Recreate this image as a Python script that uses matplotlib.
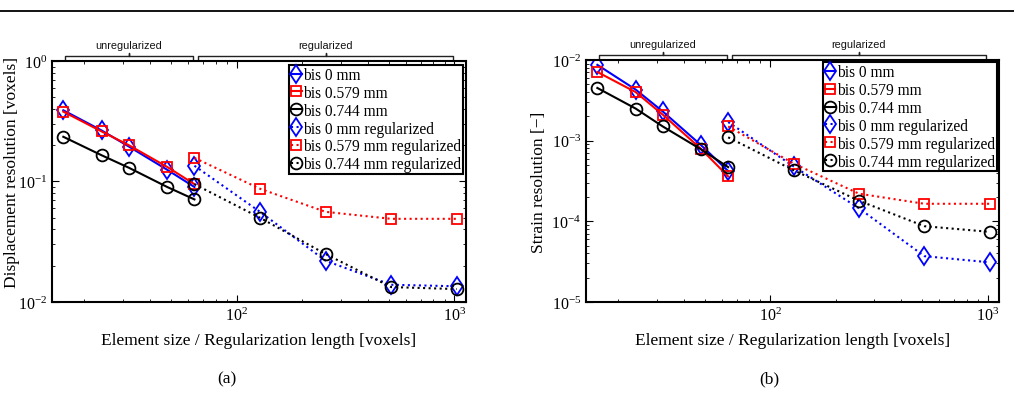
import matplotlib
matplotlib.use("Agg")
import matplotlib.pyplot as plt
import matplotlib.transforms as mtransforms
from matplotlib.lines import Line2D

plt.rcParams["font.family"] = ["Liberation Serif", "DejaVu Serif"]
plt.rcParams["mathtext.fontset"] = "stix"

# element sizes / regularization lengths [voxels]
x_unreg = [16, 24, 32, 48, 64]
x_reg = [64, 128, 256, 512, 1024]

labels = ["bis 0 mm", "bis 0.579 mm", "bis 0.744 mm",
          "bis 0 mm regularized", "bis 0.579 mm regularized", "bis 0.744 mm regularized"]

# (a) displacement resolution [voxels]
disp_unreg_0 = [0.39, 0.265, 0.195, 0.125, 0.09]
disp_unreg_579 = [0.38, 0.26, 0.20, 0.132, 0.095]
disp_unreg_744 = [0.235, 0.165, 0.13, 0.09, 0.071]
disp_reg_0 = [0.135, 0.056, 0.022, 0.0139, 0.0135]
disp_reg_579 = [0.157, 0.087, 0.056, 0.049, 0.049]
disp_reg_744 = [0.095, 0.05, 0.025, 0.0133, 0.0128]

# (b) strain resolution [-]
str_unreg_0 = [0.0087, 0.0043, 0.0023, 0.00088, 0.00042]
str_unreg_579 = [0.0071, 0.0040, 0.0021, 0.00079, 0.00036]
str_unreg_744 = [0.0045, 0.0025, 0.0015, 0.00078, 0.00047]
str_reg_0 = [0.0017, 0.00048, 0.000145, 3.7e-5, 3.1e-5]
str_reg_579 = [0.0015, 0.00052, 0.00022, 0.000165, 0.000165]
str_reg_744 = [0.0011, 0.00043, 0.00018, 8.7e-5, 7.4e-5]

BLUE = "#0000ff"
RED = "#ff0000"
BLACK = "#000000"

fig = plt.figure(figsize=(10.14, 4.02), dpi=100)

# rule at the top of the page
fig.add_artist(Line2D([0, 1], [0.970, 0.970], transform=fig.transFigure,
                      color="black", lw=1.3))


def brace(ax, x1, x2, text):
    tr = mtransforms.blended_transform_factory(ax.transData, ax.transAxes)
    xm = (x1 * x2) ** 0.5
    ax.plot([x1, x1, xm, xm, xm, x2, x2],
            [1.008, 1.021, 1.021, 1.034, 1.021, 1.021, 1.008],
            transform=tr, color="#222222", lw=1.0, clip_on=False)
    ax.text(xm, 1.065, text, transform=tr, ha="center", va="center",
            fontsize=7.8, family=["Liberation Sans", "DejaVu Sans"], color="#111111")


def panel(rect, unreg, reg, ylim, ylabel, yl_xy, legend_anchor):
    ax = fig.add_axes(rect)
    styles = [(BLUE, "d", 9.5), (RED, "s", 7.2), (BLACK, "o", 8.5)]
    handles = []
    for (c, m, ms), y in zip(styles, unreg):
        h, = ax.plot(x_unreg, y, color=c, marker=m, ms=ms, mfc="none", mec=c,
                     mew=1.3, lw=1.5, ls="-")
        handles.append(h)
    for (c, m, ms), y in zip(styles, reg):
        h, = ax.plot(x_reg, y, color=c, marker=m, ms=ms, mfc="none", mec=c,
                     mew=1.3, lw=1.5, ls=":")
        handles.append(h)
    ax.set_xscale("log")
    ax.set_yscale("log")
    ax.set_xlim(14.2, 1130)
    ax.set_ylim(*ylim)
    ax.tick_params(which="both", direction="in", top=True, right=True, labelsize=11.5)
    ax.tick_params(which="major", length=5, width=0.8)
    ax.tick_params(which="minor", length=2.5, width=0.6)
    for s in ax.spines.values():
        s.set_linewidth(1.5)
    ax.set_xlabel("Element size / Regularization length [voxels]", fontsize=12.5)
    ax.xaxis.set_label_coords(0.5, -0.125)
    ax.set_ylabel(ylabel, fontsize=12.5)
    ax.yaxis.set_label_coords(*yl_xy)
    leg = ax.legend(handles, labels, loc="upper right", bbox_to_anchor=legend_anchor,
                    borderaxespad=0, fontsize=11.2, handlelength=0.7, handletextpad=0.1,
                    labelspacing=0.12, borderpad=0.12, fancybox=False, framealpha=1)
    leg.get_frame().set_edgecolor("black")
    leg.get_frame().set_linewidth(1.5)
    brace(ax, 16.3, 63, "unregularized")
    brace(ax, 66.5, 985, "regularized")
    return ax


panel([0.0513, 0.2463, 0.4083, 0.5995],
      [disp_unreg_0, disp_unreg_579, disp_unreg_744],
      [disp_reg_0, disp_reg_579, disp_reg_744],
      (1e-2, 1e0), "Displacement resolution [voxels]", (-0.078, 0.54), (0.993, 0.983))

panel([0.578, 0.2463, 0.4073, 0.6020],
      [str_unreg_0, str_unreg_579, str_unreg_744],
      [str_reg_0, str_reg_579, str_reg_744],
      (1e-5, 1e-2), "Strain resolution [\u2212]", (-0.095, 0.5), (0.995, 0.99))

fig.text(0.224, 0.055, "(a)", ha="center", va="center", fontsize=12.5)
fig.text(0.759, 0.055, "(b)", ha="center", va="center", fontsize=12.5)

fig.savefig("out.png", dpi=100)
